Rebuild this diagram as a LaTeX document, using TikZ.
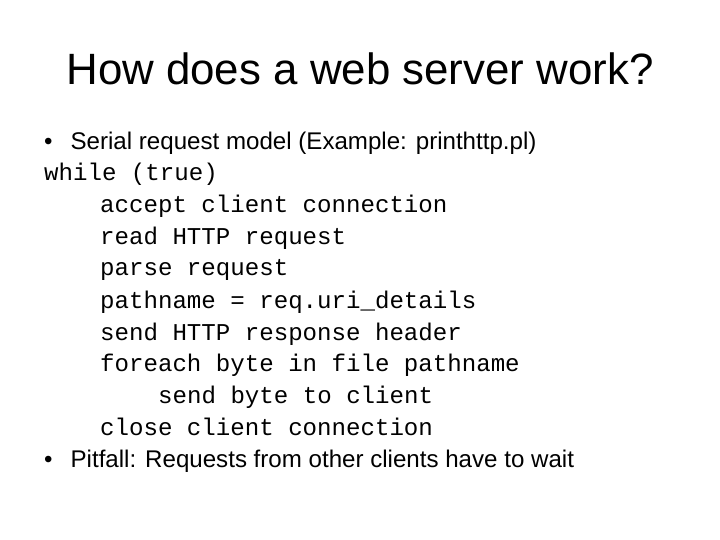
\documentclass[tikz,border=0pt]{standalone}
\usepackage{fontspec}
\setmainfont{Liberation Sans}
\newfontfamily\codefont{Liberation Mono}
\begin{document}
\begin{tikzpicture}[x=1bp,y=-1bp,
  txt/.style={anchor=base west,inner sep=0pt,font=\fontsize{24.2}{28}\selectfont},
  code/.style={anchor=base west,inner sep=0pt,font=\codefont\fontsize{24.2}{28}\selectfont}]
\useasboundingbox (0,0) rectangle (720,540);
\node[inner sep=0pt,anchor=base,font=\fontsize{44}{50}\selectfont] (title) at (360,85) {How does a web server work?};
\node[txt] (b1) at (44,150) {\textbullet\hspace{18bp}Serial request model (Example: printhttp.pl)};
\node[code] (c1) at (44,181) {while (true)};
\node[code] (c2) at (100,213) {accept client connection};
\node[code] (c3) at (100,245) {read HTTP request};
\node[code] (c4) at (100,276) {parse request};
\node[code] (c5) at (100,308) {pathname = req.uri\_details};
\node[code] (c6) at (100,340) {send HTTP response header};
\node[code] (c7) at (100,371) {foreach byte in file pathname};
\node[code] (c8) at (158,403) {send byte to client};
\node[code] (c9) at (100,435) {close client connection};
\node[txt] (b2) at (44,467) {\textbullet\hspace{18bp}Pitfall: Requests from other clients have to wait};
\end{tikzpicture}
\end{document}
